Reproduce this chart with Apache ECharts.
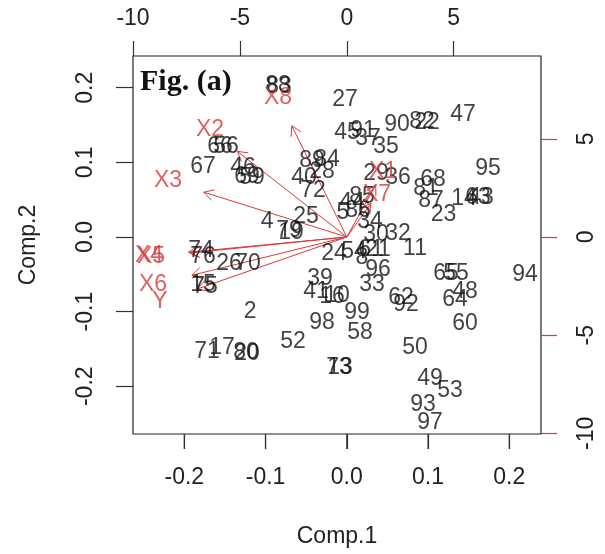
<!DOCTYPE html>
<html>
<head>
<meta charset="utf-8">
<script src="https://cdn.jsdelivr.net/npm/echarts@6/dist/echarts.min.js"></script>
<style>
  html, body { margin: 0; padding: 0; background: #fff; }
  #biplot { width: 605px; height: 554px; }
</style>
</head>
<body>
<div id="biplot"></div>
<script>
// observation scores (Comp.1, Comp.2) and their row labels
var obsNames = ['88','83','27','45','91','37','35','90','82','22','47','95','68','81','87','14','63','43','23',
  '89','84','40','28','72','46','69','59','66','56','67','25','4','79','19','29','36','85','44','5','86','34',
  '30','32','11','24','54','8','61','21','96','33','39','41','16','10','62','92','99','58','98','52','2',
  '71','17','80','20','73','13','50','49','53','93','97','65','55','48','64','60','94','76','74','75','15','26','70'];
var comp1 = [-0.0847,-0.0834,-0.0022,0.0002,0.0199,0.0261,0.0482,0.0618,0.0926,0.0987,0.1430,0.1738,0.1060,0.0975,0.1036,0.1443,0.1615,0.1652,0.1190,
  -0.0428,-0.0244,-0.0527,-0.0305,-0.0416,-0.1278,-0.1228,-0.1167,-0.1561,-0.1487,-0.1770,-0.0502,-0.0982,-0.0711,-0.0687,0.0359,0.0630,0.0187,0.0064,-0.0047,0.0138,0.0286,
  0.0359,0.0630,0.0839,-0.0158,0.0089,0.0187,0.0298,0.0384,0.0384,0.0310,-0.0330,-0.0379,-0.0182,-0.0121,0.0667,0.0729,0.0126,0.0162,-0.0305,-0.0662,-0.1191,
  -0.1721,-0.1536,-0.1241,-0.1228,-0.0096,-0.0084,0.0839,0.1024,0.1270,0.0938,0.1024,0.1220,0.1343,0.1454,0.1331,0.1454,0.2193,-0.1770,-0.1794,-0.1745,-0.1770,-0.1450,-0.1216];
var comp2 = [0.2023,0.2010,0.1836,0.1394,0.1420,0.1313,0.1206,0.1501,0.1541,0.1528,0.1635,0.0911,0.0764,0.0643,0.0482,0.0509,0.0523,0.0523,0.0295,
  0.1018,0.1032,0.0791,0.0871,0.0616,0.0925,0.0804,0.0791,0.1206,0.1206,0.0938,0.0268,0.0201,0.0080,0.0054,0.0844,0.0791,0.0536,0.0456,0.0322,0.0348,0.0201,
  0.0027,0.0040,-0.0161,-0.0228,-0.0201,-0.0281,-0.0174,-0.0174,-0.0442,-0.0643,-0.0563,-0.0737,-0.0804,-0.0791,-0.0817,-0.0911,-0.1018,-0.1286,-0.1152,-0.1407,-0.1005,
  -0.1541,-0.1487,-0.1554,-0.1568,-0.1755,-0.1755,-0.1487,-0.1903,-0.2064,-0.2251,-0.2492,-0.0496,-0.0496,-0.0737,-0.0844,-0.1166,-0.0509,-0.0268,-0.0188,-0.0670,-0.0643,-0.0362,-0.0362];

// variable loadings (top / right axes)
var varNames = ['X1','X2','X3','X4','X5','X6','X7','X8','Y'];
var loadX = [1.69,-6.40,-8.36,-9.25,-9.16,-9.06,1.41,-3.22,-8.74];
var loadY = [3.31,5.45,2.85,-0.97,-1.02,-2.44,2.14,7.08,-3.31];

// tick labels
var pcTicksX = [-0.2,-0.1,0.0,0.1,0.2];
var pcTicksY = [-0.2,-0.1,0.0,0.1,0.2];
var loadTicksX = [-10,-5,0,5];
var loadTicksY = [-10,-5,0,5];

var RED = '#d63a3a';
var FONT = 'Liberation Sans';
var X_MIN = -0.26316, X_MAX = 0.239, Y_MIN = -0.264, Y_MAX = 0.2425;

var chart = echarts.init(document.getElementById('biplot'));

function fmt1(v) { return v.toFixed(1); }

var obsData = obsNames.map(function (n, i) { return { name: n, value: [comp1[i], comp2[i]] }; });
var varData = varNames.map(function (n, i) { return { name: n, value: [loadX[i], loadY[i]] }; });

var option = {
  animation: false,
  grid: {
    left: 133, top: 56, width: 408, height: 378,
    show: true, borderColor: '#222', borderWidth: 1.2
  },
  graphic: [{
    type: 'text', left: 140, top: 67,
    style: { text: 'Fig. (a)', font: 'bold 30px "Liberation Serif"', fill: '#111' }
  }],
  xAxis: [{
    type: 'value', position: 'bottom', min: X_MIN, max: X_MAX,
    axisLine: { show: false, onZero: false }, splitLine: { show: false },
    axisTick: { show: true, length: 15, customValues: pcTicksX, lineStyle: { color: '#333', width: 1.2 } },
    axisLabel: { customValues: pcTicksX, formatter: fmt1, margin: 32, fontFamily: FONT, fontSize: 23, color: '#222' },
    name: 'Comp.1', nameLocation: 'middle', nameGap: 91,
    nameTextStyle: { fontFamily: FONT, fontSize: 23, color: '#222' }
  }, {
    type: 'value', position: 'top', min: -10, max: 9.082,
    axisLine: { show: false, onZero: false }, splitLine: { show: false },
    axisTick: { show: true, length: 15, customValues: loadTicksX, lineStyle: { color: '#333', width: 1.2 } },
    axisLabel: { customValues: loadTicksX, margin: 26, fontFamily: FONT, fontSize: 23, color: '#222' }
  }],
  yAxis: [{
    type: 'value', position: 'left', min: Y_MIN, max: Y_MAX,
    axisLine: { show: false, onZero: false }, splitLine: { show: false },
    axisTick: { show: true, length: 17, customValues: pcTicksY, lineStyle: { color: '#333', width: 1.2 } },
    axisLabel: { customValues: pcTicksY, formatter: fmt1, rotate: 90, margin: 36, fontFamily: FONT, fontSize: 23, color: '#222' },
    name: 'Comp.2', nameLocation: 'middle', nameGap: 93,
    nameTextStyle: { fontFamily: FONT, fontSize: 23, color: '#222' }
  }, {
    type: 'value', position: 'right', min: -10.032, max: 9.215,
    axisLine: { show: false, onZero: false }, splitLine: { show: false },
    axisTick: { show: true, length: 16, customValues: loadTicksY, lineStyle: { color: RED, width: 1.2 } },
    axisLabel: { customValues: loadTicksY, rotate: 90, margin: 34, fontFamily: FONT, fontSize: 23, color: '#222' }
  }],
  series: [{
    // bottom axis tick marks, placed through the Comp.1 scale
    type: 'custom', xAxisIndex: 0, yAxisIndex: 0, clip: false, silent: true,
    data: pcTicksX.map(function (v) { return [v, Y_MIN]; }),
    renderItem: function (params, api) {
      var p = api.coord([api.value(0), api.value(1)]);
      return { type: 'line', shape: { x1: p[0], y1: p[1], x2: p[0], y2: p[1] + 15 }, style: { stroke: '#333', lineWidth: 1.2 } };
    },
    z: 10
  }, {
    type: 'scatter', xAxisIndex: 0, yAxisIndex: 0,
    data: obsData, symbolSize: 1, itemStyle: { color: 'rgba(0,0,0,0)' },
    label: { show: true, position: 'inside', formatter: '{b}', fontFamily: FONT, fontSize: 23, color: '#111' },
    z: 3
  }, {
    type: 'custom', xAxisIndex: 1, yAxisIndex: 1,
    data: varData,
    renderItem: function (params, api) {
      var o = api.coord([0, 0]);
      var t = api.coord([api.value(0) * 0.8, api.value(1) * 0.8]);
      var ang = Math.atan2(t[1] - o[1], t[0] - o[0]);
      var L = 11, a = Math.PI / 6;
      var p1 = [t[0] - L * Math.cos(ang - a), t[1] - L * Math.sin(ang - a)];
      var p2 = [t[0] - L * Math.cos(ang + a), t[1] - L * Math.sin(ang + a)];
      return {
        type: 'group',
        children: [
          { type: 'line', shape: { x1: o[0], y1: o[1], x2: t[0], y2: t[1] }, style: { stroke: RED, lineWidth: 1 } },
          { type: 'polyline', shape: { points: [p1, t, p2] }, style: { stroke: RED, lineWidth: 1, fill: null } }
        ]
      };
    },
    z: 2
  }, {
    type: 'scatter', xAxisIndex: 1, yAxisIndex: 1,
    data: varData, symbolSize: 1, itemStyle: { color: 'rgba(0,0,0,0)' },
    label: { show: true, position: 'inside', formatter: '{b}', fontFamily: FONT, fontSize: 23, color: RED },
    z: 4
  }]
};

chart.setOption(option);
</script>
</body>
</html>
